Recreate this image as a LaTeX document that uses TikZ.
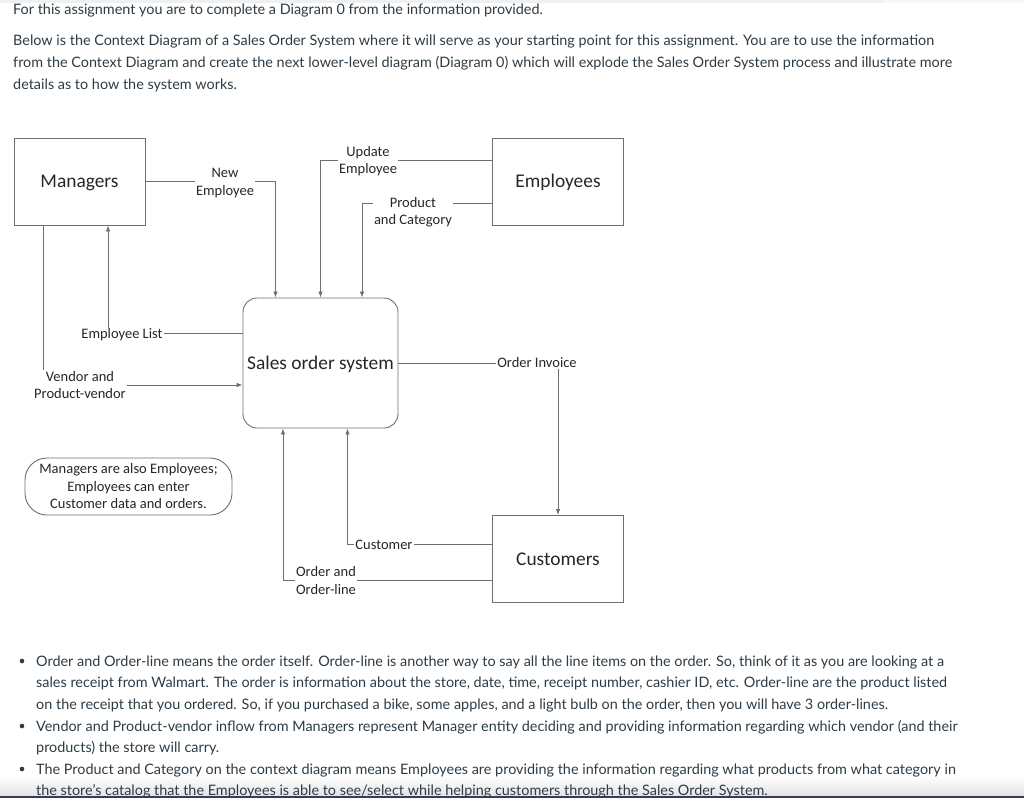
\documentclass[tikz,border=0pt]{standalone}
\usepackage{fontspec}
\setmainfont{Lato}
\newfontfamily\dia{Carlito}
\usetikzlibrary{arrows.meta}
\definecolor{ink}{HTML}{2D3B45}
\definecolor{wire}{HTML}{6E6E6E}
\definecolor{edge}{HTML}{3C3A5C}
\begin{document}
\begin{tikzpicture}[x=1pt,y=-1pt,
  entity/.style={draw=wire,line width=0.9pt,minimum width=131,minimum height=87,font=\dia\fontsize{19.4}{21}\selectfont,text=black!85,text height=13pt,text depth=1pt},
  process/.style={entity,rounded corners=14,minimum width=155,minimum height=130},
  flow/.style={font=\dia\fontsize{14.5}{17.5}\selectfont,text=black!85,align=center,inner sep=1pt},
  line/.style={draw=wire,line width=0.8pt},
  arr/.style={line,-{Latex[length=6,width=4.5]}},
  para/.style={anchor=base west,font=\fontsize{14.4}{22}\selectfont,text=ink,inner sep=0pt}]
\useasboundingbox (0,0) rectangle (1024,798);
\fill[gray!12] (0,0) rectangle (882,2.5);
\fill[violet!4] (882,0) rectangle (1024,2.5);
\fill[top color=white,bottom color=gray!22] (0,776) rectangle (1024,796);
\fill[edge] (0,796) rectangle (1024,798);

% text above the diagram
\foreach \y/\t [count=\i] in {14/{For this assignment you are to complete a Diagram 0 from the information provided.},
  45/{Below is the Context Diagram of a Sales Order System where it will serve as your starting point for this assignment. You are to use the information},
  67/{from the Context Diagram and create the next lower-level diagram (Diagram 0) which will explode the Sales Order System process and illustrate more},
  89/{details as to how the system works.}}
\node[para] (intro\i) at (13,\y) {\t};

% entities and process
\node[entity] (mgr) at (79.5,181.5) {Managers};
\node[entity] (emp) at (558,181.5) {Employees};
\node[process] (sos) at (320.5,363) {Sales order system};
\node[entity] (cus) at (558,559) {Customers};
\node[draw=wire,line width=0.9pt,rounded corners=22,minimum width=207,minimum height=57,
  font=\dia\fontsize{14.5}{17.5}\selectfont,text=black!85,align=center] (note) at (128.5,486.5)
  {Managers are also Employees;\\Employees can enter\\Customer data and orders.};

% flow labels
\node[flow] (newemp) at (225,183) {New\\Employee};
\node[flow] (upd) at (368,161) {Update\\Employee};
\node[flow] (prod) at (413,212) {Product\\and Category};
\node[flow] (elist) at (122,335) {Employee List};
\node[flow] (vend) at (80,385) {Vendor and\\Product-vendor};
\node[flow] (inv) at (537,363) {Order Invoice};
\node[flow] (cust) at (384,545) {Customer};
\node[flow] (ord) at (326,580.5) {Order and\\Order-line};

\coordinate (m1) at ([xshift=-36.5]mgr.south);
\coordinate (m2) at ([xshift=28.5]mgr.south);

% flows
\draw[line] (mgr.east) -- (mgr.east -| newemp.west);
\draw[arr] (newemp.east |- mgr.east) -| ([xshift=-45]sos.north);
\draw[line] (emp.west |- 0,160) -- (upd.east |- 0,160);
\draw[arr] (upd.west |- 0,160) -| (sos.north);
\draw[line] (emp.west |- 0,203) -- (prod.east |- 0,203);
\draw[arr] (prod.west |- 0,203) -| ([xshift=41.5]sos.north);
\draw[line] (sos.west |- 0,333) -- (elist.east |- 0,333);
\draw[arr] (elist.north -| m2) -- (m2);
\draw[line] (m1) -- (m1 |- vend.north);
\draw[arr] (vend.east |- 0,385) -- (sos.west |- 0,385);
\draw[line] (sos.east) -- (inv.west);
\draw[arr] (inv.south -| cus.north) -- (cus.north);
\draw[line] (cus.west |- 0,544) -- (cust.east |- 0,544);
\draw[arr] (cust.west |- 0,544) -| ([xshift=27]sos.south);
\draw[line] (cus.west |- 0,580) -- (ord.east |- 0,580);
\draw[arr] (ord.west |- 0,580) -| ([xshift=-37.5]sos.south);

% notes below the diagram
\foreach \y/\t [count=\i] in {666/{Order and Order-line means the order itself. Order-line is another way to say all the line items on the order. So, think of it as you are looking at a},
  687/{sales receipt from Walmart. The order is information about the store, date, time, receipt number, cashier ID, etc. Order-line are the product listed},
  709/{on the receipt that you ordered. So, if you purchased a bike, some apples, and a light bulb on the order, then you will have 3 order-lines.},
  731/{Vendor and Product-vendor inflow from Managers represent Manager entity deciding and providing information regarding which vendor (and their},
  752/{products) the store will carry.},
  774/{The Product and Category on the context diagram means Employees are providing the information regarding what products from what category in},
  795/{the store's catalog that the Employees is able to see/select while helping customers through the Sales Order System.}}
\node[para] (note\i) at (36,\y) {\t};
\foreach \y in {661,726,769}
  \fill[ink] (22,\y) circle (2.3);
\end{tikzpicture}
\end{document}
